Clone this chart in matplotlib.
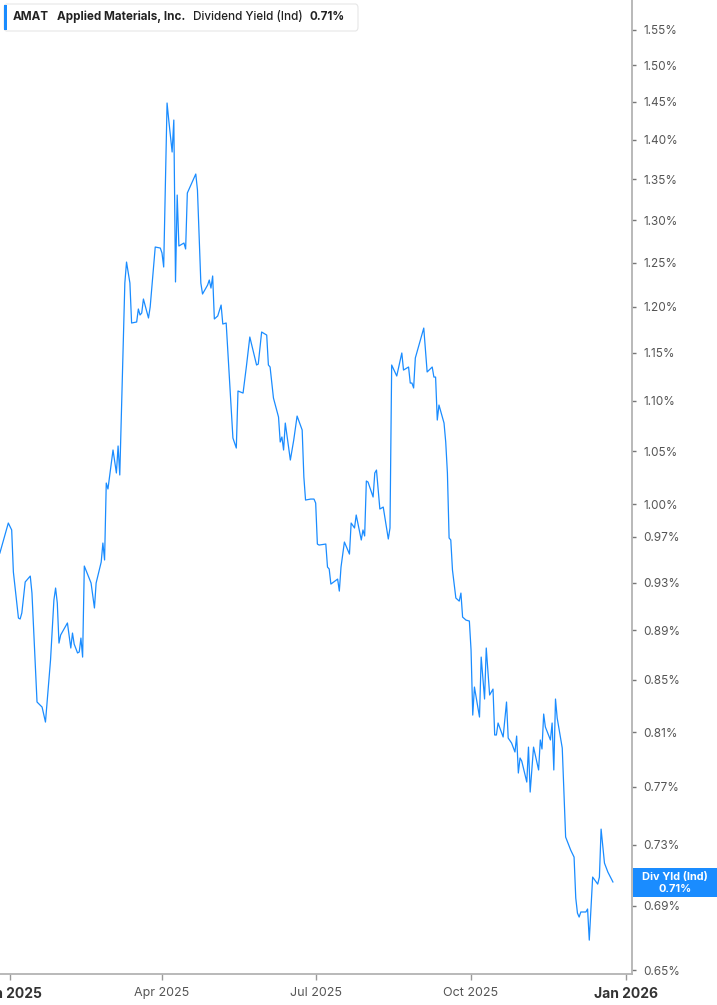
import datetime as dt
import numpy as np
import matplotlib
matplotlib.use("Agg")
import matplotlib.pyplot as plt
import matplotlib.dates as mdates
from matplotlib.patches import Rectangle, FancyBboxPatch
from matplotlib.ticker import FixedLocator, FixedFormatter, NullLocator

plt.rcParams['font.family'] = ['Inter', 'DejaVu Sans']

# AMAT indicated dividend yield (%)
dates = [
    '2024-12-26', '2024-12-31', '2025-01-02', '2025-01-03', '2025-01-06', '2025-01-07', '2025-01-08',
    '2025-01-10', '2025-01-13', '2025-01-14', '2025-01-17', '2025-01-20', '2025-01-22', '2025-01-25',
    '2025-01-27', '2025-01-28', '2025-01-29', '2025-01-30', '2025-01-31', '2025-02-04', '2025-02-06',
    '2025-02-07', '2025-02-08', '2025-02-10', '2025-02-11', '2025-02-12', '2025-02-13', '2025-02-14',
    '2025-02-18', '2025-02-20', '2025-02-21', '2025-02-24', '2025-02-25', '2025-02-26', '2025-02-27',
    '2025-02-28', '2025-03-03', '2025-03-05', '2025-03-06', '2025-03-07', '2025-03-10', '2025-03-11',
    '2025-03-13', '2025-03-14', '2025-03-17', '2025-03-18', '2025-03-19', '2025-03-20', '2025-03-21',
    '2025-03-24', '2025-03-25', '2025-03-28', '2025-03-31', '2025-04-01', '2025-04-02', '2025-04-04',
    '2025-04-05', '2025-04-07', '2025-04-08', '2025-04-09', '2025-04-10', '2025-04-11', '2025-04-14',
    '2025-04-15', '2025-04-16', '2025-04-21', '2025-04-22', '2025-04-24', '2025-04-25', '2025-04-28',
    '2025-04-29', '2025-04-30', '2025-05-01', '2025-05-02', '2025-05-04', '2025-05-06', '2025-05-07',
    '2025-05-09', '2025-05-13', '2025-05-15', '2025-05-16', '2025-05-19', '2025-05-21', '2025-05-23',
    '2025-05-27', '2025-05-28', '2025-05-30', '2025-06-02', '2025-06-03', '2025-06-04', '2025-06-06',
    '2025-06-09', '2025-06-10', '2025-06-11', '2025-06-12', '2025-06-13', '2025-06-16', '2025-06-18',
    '2025-06-20', '2025-06-23', '2025-06-24', '2025-06-25', '2025-06-28', '2025-06-30', '2025-07-01',
    '2025-07-02', '2025-07-03', '2025-07-07', '2025-07-08', '2025-07-09', '2025-07-10', '2025-07-14',
    '2025-07-15', '2025-07-16', '2025-07-18', '2025-07-21', '2025-07-22', '2025-07-24', '2025-07-25',
    '2025-07-28', '2025-07-29', '2025-07-30', '2025-07-31', '2025-08-01', '2025-08-04', '2025-08-05',
    '2025-08-06', '2025-08-08', '2025-08-10', '2025-08-12', '2025-08-13', '2025-08-14', '2025-08-15',
    '2025-08-18', '2025-08-21', '2025-08-22', '2025-08-25', '2025-08-26', '2025-08-27', '2025-08-28',
    '2025-08-29', '2025-09-03', '2025-09-05', '2025-09-08', '2025-09-09', '2025-09-10', '2025-09-11',
    '2025-09-12', '2025-09-15', '2025-09-16', '2025-09-17', '2025-09-18', '2025-09-19', '2025-09-20',
    '2025-09-22', '2025-09-24', '2025-09-25', '2025-09-26', '2025-09-28', '2025-09-30', '2025-10-01',
    '2025-10-02', '2025-10-03', '2025-10-06', '2025-10-07', '2025-10-09', '2025-10-10', '2025-10-12',
    '2025-10-14', '2025-10-15', '2025-10-16', '2025-10-17', '2025-10-20', '2025-10-22', '2025-10-23',
    '2025-10-25', '2025-10-27', '2025-10-28', '2025-10-29', '2025-10-30', '2025-10-31', '2025-11-03',
    '2025-11-04', '2025-11-05', '2025-11-07', '2025-11-10', '2025-11-11', '2025-11-12', '2025-11-13',
    '2025-11-14', '2025-11-17', '2025-11-18', '2025-11-19', '2025-11-20', '2025-11-21', '2025-11-24',
    '2025-11-26', '2025-11-29', '2025-12-01', '2025-12-02', '2025-12-03', '2025-12-04', '2025-12-05',
    '2025-12-08', '2025-12-09', '2025-12-10', '2025-12-12', '2025-12-15', '2025-12-16', '2025-12-17',
    '2025-12-19', '2025-12-21', '2025-12-24',
]
div_yield = [
    0.9557, 0.9826, 0.9763, 0.9391, 0.9000, 0.8992, 0.9042,
    0.9305, 0.9356, 0.9210, 0.8328, 0.8289, 0.8175, 0.8657,
    0.9151, 0.9253, 0.9126, 0.8794, 0.8860, 0.8959, 0.8754,
    0.8876, 0.8786, 0.8714, 0.8722, 0.8835, 0.8681, 0.9443,
    0.9296, 0.9084, 0.9296, 0.9478, 0.9646, 0.9496, 1.0196,
    1.0140, 1.0512, 1.0291, 1.0551, 1.0272, 1.2266, 1.2506,
    1.2266, 1.1821, 1.1832, 1.1975, 1.1909, 1.1931, 1.2086,
    1.1876, 1.1997, 1.2681, 1.2669, 1.2611, 1.2449, 1.4486,
    1.4260, 1.3845, 1.4260, 1.2278, 1.3305, 1.2693, 1.2728,
    1.2658, 1.3330, 1.3566, 1.3367, 1.2266, 1.2142, 1.2243,
    1.2300, 1.2209, 1.2346, 1.1865, 1.1898, 1.2019, 1.1810,
    1.1821, 1.0629, 1.0531, 1.1101, 1.1080, 1.1360, 1.1669,
    1.1371, 1.1381, 1.1723, 1.1690, 1.1371, 1.1350, 1.1029,
    1.0837, 1.0590, 1.0639, 1.0512, 1.0777, 1.0415, 1.0609,
    1.0847, 1.0708, 1.0253, 1.0037, 1.0046, 1.0046, 1.0009,
    0.9637, 0.9628, 0.9637, 0.9434, 0.9417, 0.9287, 0.9330,
    0.9227, 0.9434, 0.9655, 0.9548, 0.9826, 0.9781, 0.9899,
    0.9673, 0.9763, 0.9709, 1.0215, 1.0205, 1.0065, 1.0291,
    1.0319, 0.9954, 0.9972, 0.9781, 0.9682, 0.9781, 1.1371,
    1.1256, 1.1498, 1.1318, 1.1350, 1.1183, 1.1183, 1.1132,
    1.1445, 1.1766, 1.1298, 1.1350, 1.1245, 1.1245, 1.0807,
    1.0958, 1.0777, 1.0590, 1.0291, 0.9691, 0.9673, 0.9408,
    0.9168, 0.9142, 0.9210, 0.9008, 0.8983, 0.8975, 0.8738,
    0.8228, 0.8444, 0.8213, 0.8681, 0.8351, 0.8754, 0.8382,
    0.8428, 0.8078, 0.8078, 0.8168, 0.8063, 0.8328, 0.8055,
    0.8018, 0.7952, 0.8070, 0.7799, 0.7908, 0.7886, 0.7734,
    0.7988, 0.7663, 0.7988, 0.7821, 0.8041, 0.7974, 0.8236,
    0.8138, 0.8041, 0.8168, 0.7821, 0.8351, 0.8206, 0.7981,
    0.7351, 0.7263, 0.7216, 0.6948, 0.6852, 0.6827, 0.6859,
    0.6859, 0.6878, 0.6683, 0.7084, 0.7038, 0.7084, 0.7405,
    0.7176, 0.7117, 0.7052,
]

y_ticks = [1.55, 1.50, 1.45, 1.40, 1.35, 1.30, 1.25, 1.20, 1.15, 1.10, 1.05,
           1.00, 0.97, 0.93, 0.89, 0.85, 0.81, 0.77, 0.73, 0.69, 0.65]
x_ticks = ['2025-01-01', '2025-04-01', '2025-07-01', '2025-10-01', '2026-01-01']
x_labels = ['Jan 2025', 'Apr 2025', 'Jul 2025', 'Oct 2025', 'Jan 2026']

ticker = 'AMAT'
company = 'Applied Materials, Inc.'
metric = 'Dividend Yield (Ind)'
last_label = '0.71%'

blue = '#1a8cff'
W, H = 717, 1005

x = [dt.datetime.strptime(d, '%Y-%m-%d') for d in dates]

fig = plt.figure(figsize=(W / 100, H / 100), dpi=100)
ax = fig.add_axes([0, 1 - 974 / H, 632 / W, 974 / H])
ax.plot(x, div_yield, color=blue, lw=0.9)

ax.set_yscale('log')
ax.set_ylim(0.6477, 1.5933)
ax.yaxis.set_major_locator(FixedLocator(y_ticks))
ax.yaxis.set_major_formatter(FixedFormatter(['%.2f%%' % v for v in y_ticks]))
ax.yaxis.set_minor_locator(NullLocator())
ax.yaxis.tick_right()

t0 = dt.datetime(2025, 1, 1)
ax.set_xlim(t0 + dt.timedelta(days=-5.92), t0 + dt.timedelta(days=368.3))
ax.set_xticks([dt.datetime.strptime(d, '%Y-%m-%d') for d in x_ticks])
ax.set_xticklabels(x_labels)

for s in ['top', 'left']:
    ax.spines[s].set_visible(False)
for s in ['right', 'bottom']:
    ax.spines[s].set_color('#b3b3b3')
    ax.spines[s].set_linewidth(1.3)

ax.tick_params(axis='y', length=3, width=1, color='#777777', labelsize=8.5,
               labelcolor='#555555', pad=5)
ax.tick_params(axis='x', length=4, width=1, color='#999999', labelsize=9,
               labelcolor='#555555', pad=5)
for lab in ax.get_xticklabels():
    if lab.get_text().startswith('Jan'):
        lab.set_fontweight('bold')
        lab.set_color('#333333')
        lab.set_fontsize(10)

# header box
def fx(px):
    return px / W

def fy(py):
    return 1 - py / H

box = FancyBboxPatch((fx(4), fy(31)), fx(354), 27 / H, transform=fig.transFigure,
                     boxstyle='round,pad=0,rounding_size=0.004', facecolor='white',
                     edgecolor='#e6e6e6', lw=0.8, zorder=5)
fig.patches.append(box)
fig.patches.append(Rectangle((fx(4), fy(30)), fx(2.5), 25 / H, transform=fig.transFigure,
                             facecolor=blue, edgecolor='none', zorder=6))
ty = fy(16.5)
hfs = 8.4
fig.text(fx(13), ty, ticker, fontsize=hfs, fontweight='bold', color='#222222', va='center', zorder=8)
fig.text(fx(57), ty, company, fontsize=hfs, fontweight='bold', color='#222222', va='center', zorder=8)
fig.text(fx(193), ty, metric, fontsize=hfs, fontweight='medium', color='#222222', va='center', zorder=8)
fig.text(fx(310), ty, last_label, fontsize=hfs, fontweight='bold', color='#222222', va='center', zorder=8)

# last value badge
fig.patches.append(Rectangle((fx(633), fy(897)), fx(84), 29 / H, transform=fig.transFigure,
                             facecolor=blue, edgecolor='none', zorder=6))
fig.text(fx(675), fy(876.5), 'Div Yld (Ind)', fontsize=7.9, fontweight='bold', color='white',
         ha='center', va='center', zorder=8)
fig.text(fx(675), fy(888.5), last_label, fontsize=7.9, fontweight='bold', color='white',
         ha='center', va='center', zorder=8)

fig.savefig('out.png', dpi=100, facecolor='white')
